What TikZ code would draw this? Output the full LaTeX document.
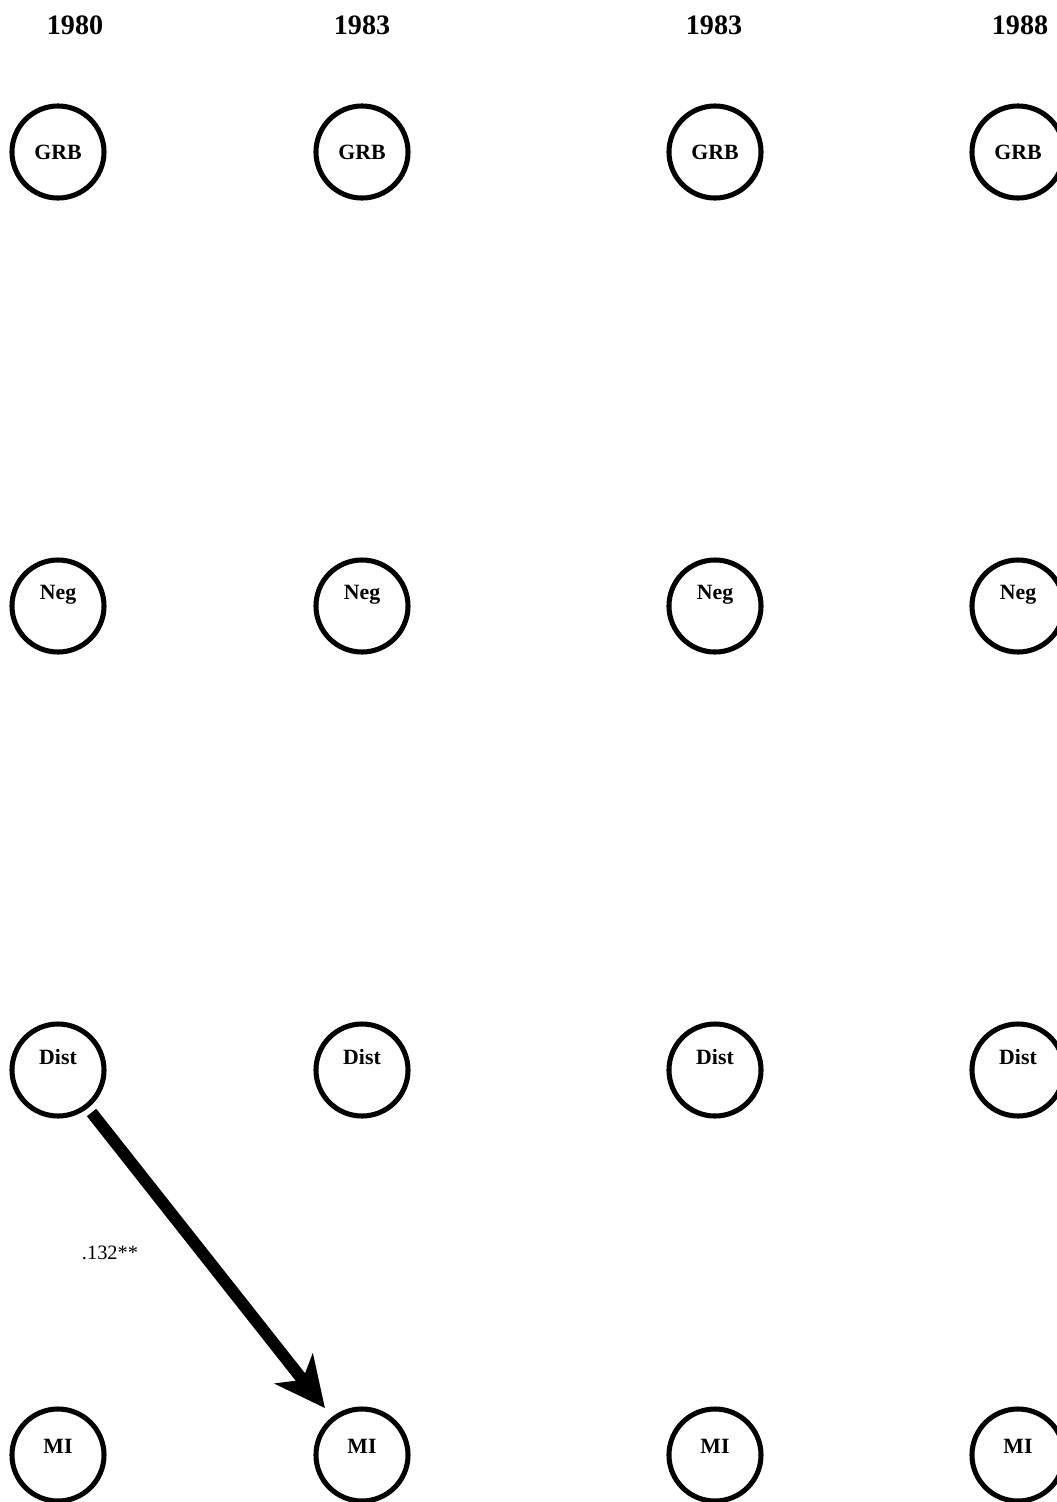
\documentclass[tikz,border=0pt]{standalone}
\usepackage{fontspec}
\setmainfont{Liberation Serif}
\usetikzlibrary{arrows.meta}

\tikzset{
  wave/.style={circle, draw, line width=3.6pt, minimum size=2.3cm, inner sep=0pt},
  varname/.style={font=\bfseries\fontsize{15.5}{16}\selectfont, inner sep=0pt},
  yearlab/.style={font=\bfseries\fontsize{20}{21}\selectfont},
}

\begin{document}
\begin{tikzpicture}[x=0.025cm, y=-0.025cm]
  \useasboundingbox (0,0) rectangle (1057,1502);
  \clip (0,0) rectangle (1057,1502);

  % waves
  \node[yearlab] (y1) at (75,25)   {1980};
  \node[yearlab] (y2) at (362,25)  {1983};
  \node[yearlab] (y3) at (714,25)  {1983};
  \node[yearlab] (y4) at (1020,25) {1988};

  % circles, one column per wave
  \foreach \c/\x in {1/58, 2/362, 3/715, 4/1018} {
    \node[wave] (g\c) at (\x,152)  {};
    \node[wave] (n\c) at (\x,606)  {};
    \node[wave] (d\c) at (\x,1070) {};
    \node[wave] (m\c) at (\x,1455) {};
    \node[varname] (gl\c) at (g\c.center)             {GRB};
    \node[varname] (nl\c) at ([yshift=8pt]n\c.center) {Neg};
    \node[varname] (dl\c) at ([yshift=9pt]d\c.center) {Dist};
    \node[varname] (ml\c) at ([yshift=6pt]m\c.center) {MI};
  }

  % lagged path
  \draw[line width=8.5pt, shorten <=4pt, shorten >=8pt,
        -{Stealth[length=1.25cm, width=1.2cm, inset=0.35cm]}] (d1) -- (m2);
  \node[font=\fontsize{14.5}{15}\selectfont] (p1) at (110,1253) {.132**};
\end{tikzpicture}
\end{document}
